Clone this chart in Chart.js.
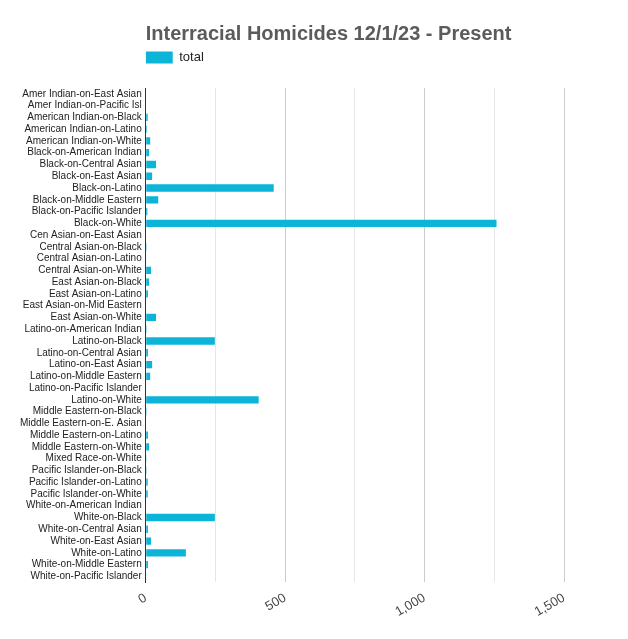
<!DOCTYPE html>
<html>
<head>
<meta charset="utf-8">
<script src="https://cdn.jsdelivr.net/npm/chart.js@4"></script>
<style>
  html, body { margin: 0; padding: 0; background: #fff; }
  #wrap { width: 628px; height: 639px; }
</style>
</head>
<body>
<div id="wrap"><canvas id="homicide-chart"></canvas></div>
<script>
// categories (offender-on-victim)
var categories = [
    "Amer Indian-on-East Asian", "Amer Indian-on-Pacific Isl", "American Indian-on-Black",
    "American Indian-on-Latino", "American Indian-on-White", "Black-on-American Indian",
    "Black-on-Central Asian", "Black-on-East Asian", "Black-on-Latino",
    "Black-on-Middle Eastern", "Black-on-Pacific Islander", "Black-on-White",
    "Cen Asian-on-East Asian", "Central Asian-on-Black", "Central Asian-on-Latino",
    "Central Asian-on-White", "East Asian-on-Black", "East Asian-on-Latino",
    "East Asian-on-Mid Eastern", "East Asian-on-White", "Latino-on-American Indian",
    "Latino-on-Black", "Latino-on-Central Asian", "Latino-on-East Asian",
    "Latino-on-Middle Eastern", "Latino-on-Pacific Islander", "Latino-on-White",
    "Middle Eastern-on-Black", "Middle Eastern-on-E. Asian", "Middle Eastern-on-Latino",
    "Middle Eastern-on-White", "Mixed Race-on-White", "Pacific Islander-on-Black",
    "Pacific Islander-on-Latino", "Pacific Islander-on-White", "White-on-American Indian",
    "White-on-Black", "White-on-Central Asian", "White-on-East Asian",
    "White-on-Latino", "White-on-Middle Eastern", "White-on-Pacific Islander"
];

// totals
var totals = [
    0, 0, 7,
    4, 16, 12,
    37, 23, 459,
    45, 6, 1258,
    0, 3, 2,
    19, 12, 8,
    0, 37, 3,
    248, 8, 23,
    16, 2, 405,
    3, 0, 8,
    12, 1, 3,
    7, 7, 0,
    248, 8, 19,
    144, 8, 2
];

// x axis: grid every 250, labels every 500
var xTickStep = 250;
var xLabelStep = 500;
var xMax = 1500;

var fontFamily = 'Arial, "Liberation Sans", sans-serif';

// extra room under the legend
var legendSpacer = {
    id: 'legendSpacer',
    beforeInit: function(chart) {
        var origFit = chart.legend.fit;
        chart.legend.fit = function() {
            origFit.bind(chart.legend)();
            this.height += 14;
        };
    }
};

var ctx = document.getElementById('homicide-chart').getContext('2d');
var chart = new Chart(ctx, {
    type: 'bar',
    data: {
        labels: categories,
        datasets: [{
            label: "total",
            data: totals,
            backgroundColor: '#0cb4d8',
            borderWidth: 0,
            barPercentage: 0.62,
            categoryPercentage: 1.0
        }]
    },
    options: {
        indexAxis: 'y',
        responsive: true,
        maintainAspectRatio: false,
        animation: false,
        layout: {
            padding: { left: 16, right: 64, top: 12, bottom: 11 }
        },
        plugins: {
            title: {
                display: true,
                text: 'Interracial Homicides 12/1/23 - Present',
                align: 'start',
                fullSize: false,
                color: '#5b5b5b',
                font: { family: fontFamily, size: 20, weight: 'bold' },
                padding: { top: 10, bottom: 5 }
            },
            legend: {
                display: true,
                align: 'start',
                fullSize: false,
                labels: {
                    boxWidth: 27,
                    boxHeight: 12,
                    padding: 0,
                    color: '#222',
                    font: { family: fontFamily, size: 13 }
                }
            },
            tooltip: { enabled: false }
        },
        scales: {
            x: {
                min: 0,
                max: xMax,
                border: { display: false },
                grid: {
                    drawTicks: false,
                    color: function(c) {
                        if (c.tick && c.tick.value % xLabelStep === 0) return '#cccccc';
                        return '#e6e6e6';
                    }
                },
                ticks: {
                    stepSize: xTickStep,
                    minRotation: 30,
                    maxRotation: 30,
                    padding: 8,
                    color: '#444',
                    font: { family: fontFamily, size: 13 },
                    callback: function(v) {
                        return v % xLabelStep === 0 ? v.toLocaleString('en-US') : '';
                    }
                }
            },
            y: {
                border: { display: true, color: '#333', width: 1 },
                grid: { display: false, drawTicks: false, tickLength: 0 },
                ticks: {
                    autoSkip: false,
                    padding: 4,
                    color: '#222',
                    font: { family: fontFamily, size: 10 }
                }
            }
        }
    },
    plugins: [legendSpacer]
});
</script>
</body>
</html>
